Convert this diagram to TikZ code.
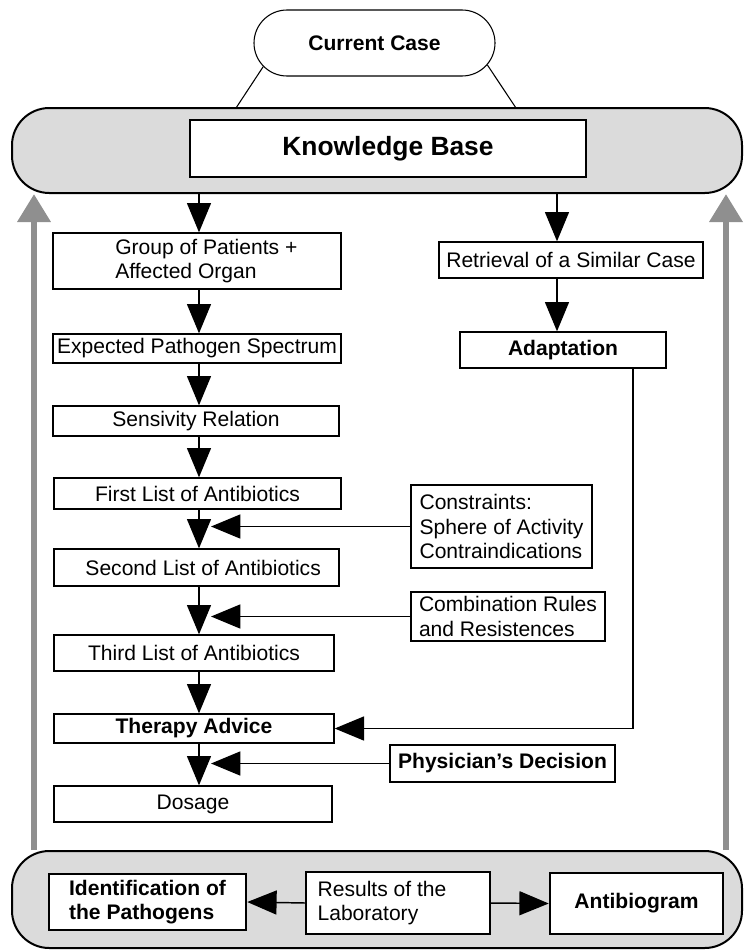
\documentclass[tikz,border=0pt]{standalone}
\usepackage{fontspec}
\setmainfont{Liberation Sans}
\usetikzlibrary{arrows.meta,shapes.misc}
\definecolor{bandgray}{gray}{0.86}
\definecolor{arrowgray}{gray}{0.56}
\begin{document}
\begin{tikzpicture}[x=0.75pt,y=-0.75pt,
  sz/.style 2 args={minimum width=#1*0.75pt, minimum height=#2*0.75pt},
  box/.style={draw, line width=1pt, fill=white, inner sep=0pt, align=center,
    font=\fontsize{15.8}{18.5}\selectfont},
  boldbox/.style={box, font=\fontsize{15.8}{18.5}\selectfont\bfseries},
  thickbox/.style={boldbox, line width=1.9pt},
  leftbox/.style={box, align=left},
  band/.style={draw, line width=1.5pt, fill=bandgray, rounded corners=28pt, inner sep=0pt},
  arr/.style={line width=1.1pt, -{Triangle[length=22pt,width=18pt]}},
  garr/.style={draw=arrowgray, line width=5pt, -{Triangle[length=21pt,width=24pt]}},
  thin/.style={line width=0.8pt}
]
\useasboundingbox (0,0) rectangle (743,950);

% the two grey bands
\node[band, sz={730}{85}] (kbband) at (377,150.5) {};
\node[band, sz={730}{97}] (labband) at (377,899.5) {};

% feedback arrows from the laboratory band up to the knowledge base
\coordinate (gl) at (34,0);
\coordinate (gr) at (726,0);
\draw[garr] (gl |- labband.north) -- (gl |- kbband.south);
\draw[garr] (gr |- labband.north) -- (gr |- kbband.south);

% top: current case and knowledge base
\node[draw, thin, rounded rectangle, fill=white, inner sep=0pt, sz={241}{66},
  font=\fontsize{15.8}{18.5}\selectfont\bfseries] (cur) at (374.5,43) {Current Case};
\coordinate (cl) at (236,108);
\coordinate (cr) at (516,108);
\draw[thin] (cur.192) -- (cl);
\draw[thin] (cur.349) -- (cr);
\node[thickbox, sz={396}{57}, font=\fontsize{19.8}{24}\selectfont\bfseries] (kb) at (388,148.5) {Knowledge Base};

% left column
\node[leftbox, sz={288}{56}] (grp) at (197,261) {\hspace*{14pt}Group of Patients +\\\hspace*{14pt}Affected Organ};
\node[box, sz={288}{29}] (exp) at (197,348.5) {Expected Pathogen Spectrum};
\node[box, sz={286}{30}] (sen) at (196,421) {Sensivity Relation};
\node[box, sz={287}{31}] (fst) at (197.5,493.5) {First List of Antibiotics};
\node[box, sz={285}{37}] (snd) at (196.5,567.5) {\hspace*{10pt}Second List of Antibiotics};
\node[box, sz={280}{36}] (thd) at (194,653) {Third List of Antibiotics};
\node[boldbox, sz={280}{29}] (thr) at (194,728.5) {Therapy Advice};
\node[box, sz={278}{36}] (dos) at (193,804) {Dosage};

% right column
\node[box, sz={264}{36}] (ret) at (571,260) {Retrieval of a Similar Case};
\node[boldbox, sz={206}{36}] (ada) at (563,350) {Adaptation};
\node[leftbox, sz={181}{83}] (con) at (501.5,526.5) {Constraints:\\Sphere of Activity\\Contraindications};
\node[leftbox, sz={194}{49}] (com) at (508,616.5) {Combination Rules\\and Resistences};
\node[boldbox, sz={225}{37}] (phy) at (502.5,763.5) {Physician’s Decision};

% laboratory band
\node[thickbox, align=left, sz={197}{56}] (idf) at (147.5,902) {Identification of\\the Pathogens};
\node[leftbox, sz={184}{62}] (res) at (398,903) {Results of the\hspace*{24pt}\\Laboratory\hspace*{24pt}};
\node[thickbox, sz={173}{61}] (abg) at (636.5,903.5) {Antibiogram};

% main chain
\coordinate (colx) at (199,0);
\coordinate (tipx) at (211,0);
\coordinate (adx) at (633,0);
\draw[arr] (kbband.south -| colx) -- (grp.north -| colx);
\draw[arr] (grp.south -| colx) -- (exp.north -| colx);
\draw[arr] (exp.south -| colx) -- (sen.north -| colx);
\draw[arr] (sen.south -| colx) -- (fst.north -| colx);
\draw[arr] (fst.south -| colx) -- (snd.north -| colx);
\draw[arr] (snd.south -| colx) -- (thd.north -| colx);
\draw[arr] (thd.south -| colx) -- (thr.north -| colx);
\draw[arr] (thr.south -| colx) -- (dos.north -| colx);

% side inputs
\draw[arr] (con.west) -- (con.west -| tipx);
\draw[arr] (com.west) -- (com.west -| tipx);
\draw[arr] (phy.west) -- (phy.west -| tipx);

% retrieval branch
\coordinate (rx) at (557,0);
\draw[arr] (kbband.south -| rx) -- (ret.north -| rx);
\draw[arr] (ret.south -| rx) -- (ada.north -| rx);
\draw[arr] (ada.south -| adx) |- (thr.east);

% laboratory results
\draw[arr] (res.west) -- (idf.east);
\draw[arr] (res.east) -- (abg.west);
\end{tikzpicture}
\end{document}
